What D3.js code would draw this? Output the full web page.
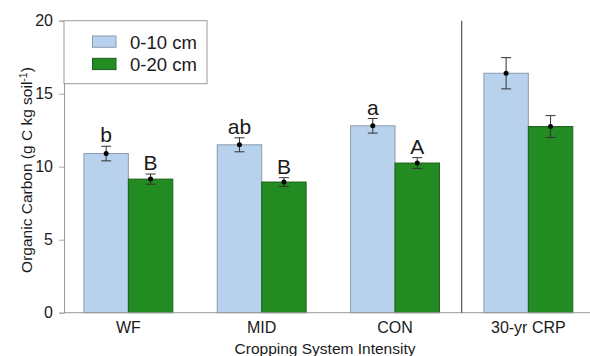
<!DOCTYPE html>
<meta charset="utf-8">
<style>
body { margin: 0; background: #fff; }
text { font-family: "Liberation Sans", Arial, sans-serif; fill: #1a1a1a; }
</style>
<svg width="590" height="356"></svg>
<script src="https://d3js.org/d3.v7.min.js"></script>
<script>

// values
var categories = ["WF", "MID", "CON", "30-yr CRP"];
var series = ["0-10 cm", "0-20 cm"];
var carbon10 = [10.9, 11.5, 12.8, 16.4];
var carbon20 = [9.15, 8.95, 10.25, 12.75];
var se10 = [0.5, 0.48, 0.5, 1.07];
var se20 = [0.35, 0.3, 0.37, 0.75];
var letters10 = ["b", "ab", "a", ""];
var letters20 = ["B", "B", "A", ""];
var yTicks = [0, 5, 10, 15, 20];

var colors = ["#b8d1ed", "#228b22"];
var strokes = ["#8a9bb0", "#1e5e1e"];

var svg = d3.select("svg"),
    width = +svg.attr("width"),
    height = +svg.attr("height");

var x0 = 64, y0 = 312.7, yTop = 20.7;

var x = d3.scaleBand()
    .domain(categories)
    .range([61.7, 595])
    .paddingInner(1 / 3)
    .paddingOuter(1 / 6);

var xs = d3.scaleBand()
    .domain(series)
    .range([0, x.bandwidth()]);

var y = d3.scaleLinear()
    .domain([0, 20])
    .range([y0, yTop]);

var rows = categories.map(function(c, i) {
  return [
    { cat: c, s: series[0], v: carbon10[i], e: se10[i], l: letters10[i], k: 0 },
    { cat: c, s: series[1], v: carbon20[i], e: se20[i], l: letters20[i], k: 1 }
  ];
});

// bars
var groups = svg.append("g")
  .selectAll("g")
  .data(rows)
  .enter().append("g")
    .attr("transform", function(d) { return "translate(" + x(d[0].cat) + ",0)"; });

var bars = groups.selectAll("g")
  .data(function(d) { return d; })
  .enter().append("g");

bars.append("rect")
    .attr("x", function(d) { return xs(d.s); })
    .attr("y", function(d) { return y(d.v); })
    .attr("width", xs.bandwidth())
    .attr("height", function(d) { return y(0) - y(d.v); })
    .attr("fill", function(d) { return colors[d.k]; })
    .attr("stroke", function(d) { return strokes[d.k]; })
    .attr("stroke-width", 1);

// error bars
var cx = function(d) { return xs(d.s) + xs.bandwidth() / 2; };
bars.append("line")
    .attr("x1", cx).attr("x2", cx)
    .attr("y1", function(d) { return y(d.v + d.e); })
    .attr("y2", function(d) { return y(d.v - d.e); })
    .attr("stroke", "#333").attr("stroke-width", 1);
[1, -1].forEach(function(sign) {
  bars.append("line")
      .attr("x1", function(d) { return cx(d) - 5; })
      .attr("x2", function(d) { return cx(d) + 5; })
      .attr("y1", function(d) { return y(d.v + sign * d.e); })
      .attr("y2", function(d) { return y(d.v + sign * d.e); })
      .attr("stroke", "#333").attr("stroke-width", 1);
});
bars.append("circle")
    .attr("cx", cx)
    .attr("cy", function(d) { return y(d.v); })
    .attr("r", 2.5)
    .attr("fill", "#000");

// significance letters
bars.append("text")
    .attr("x", cx)
    .attr("y", function(d) { return y(d.v + d.e) - 4; })
    .attr("text-anchor", "middle")
    .style("font-size", "21px")
    .text(function(d) { return d.l; });

// y axis
var yAxis = svg.append("g")
    .attr("transform", "translate(" + x0 + ",0)")
    .call(d3.axisLeft(y).tickValues(yTicks).tickSize(5).tickPadding(6));
yAxis.select(".domain").attr("stroke", "#999");
yAxis.selectAll(".tick line").attr("stroke", "#aaa");
yAxis.selectAll(".tick text").style("font-size", "16px").attr("fill", "#1a1a1a");

// x axis
var xAxis = svg.append("g")
    .attr("transform", "translate(0," + y0 + ")")
    .call(d3.axisBottom(x).tickSize(0).tickPadding(9));
xAxis.select(".domain").attr("d", "M" + x0 + ",0H" + width).attr("stroke", "#999");
xAxis.selectAll(".tick text").style("font-size", "16px").attr("fill", "#1a1a1a");

// divider between cropping systems and CRP
var divX = (x("CON") + x.bandwidth() + x("30-yr CRP")) / 2;
svg.append("line")
    .attr("x1", divX).attr("x2", divX)
    .attr("y1", yTop).attr("y2", y0)
    .attr("stroke", "#555").attr("stroke-width", 1.2);

// axis titles
svg.append("text")
    .attr("x", 325)
    .attr("y", 354)
    .attr("text-anchor", "middle")
    .style("font-size", "15.5px")
    .text("Cropping System Intensity");

var yt = svg.append("text")
    .attr("transform", "translate(32,170) rotate(-90)")
    .attr("text-anchor", "middle")
    .style("font-size", "15.5px");
yt.append("tspan").text("Organic Carbon (g C kg soil");
yt.append("tspan").attr("dy", -5).style("font-size", "10.5px").text("-1");
yt.append("tspan").attr("dy", 5).text(")");

// legend
var legend = svg.append("g");
legend.append("rect")
    .attr("x", x0).attr("y", yTop)
    .attr("width", 143).attr("height", 63)
    .attr("fill", "#fff")
    .attr("stroke", "#999");
var li = legend.selectAll("g")
  .data(series)
  .enter().append("g")
    .attr("transform", function(d, i) { return "translate(92.5," + (36 + i * 22.3) + ")"; });
li.append("rect")
    .attr("width", 23.5).attr("height", 11.3)
    .attr("fill", function(d, i) { return colors[i]; })
    .attr("stroke", function(d, i) { return strokes[i]; });
li.append("text")
    .attr("x", 37.5).attr("y", 13)
    .style("font-size", "18.5px")
    .text(function(d) { return d; });

</script>
